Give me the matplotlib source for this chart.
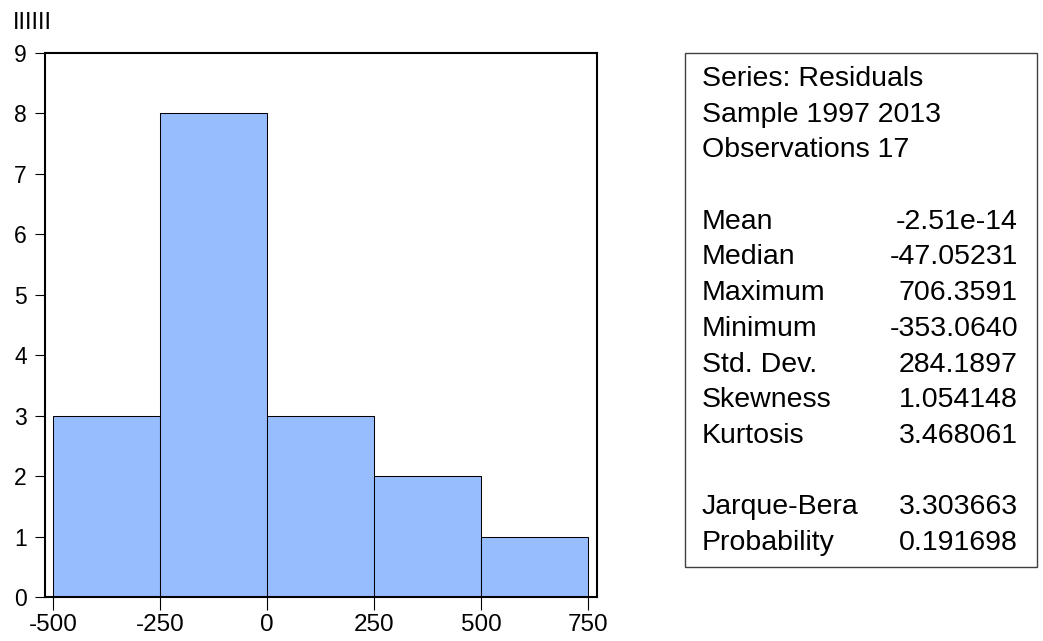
import numpy as np
import matplotlib.pyplot as plt

# Histogramme des résidus (style EViews)
bin_edges = [-500, -250, 0, 250, 500, 750]
counts = [3, 8, 3, 2, 1]
x_ticks = [-500, -250, 0, 250, 500, 750]
y_ticks = list(range(10))

stat_header = ["Series: Residuals", "Sample 1997 2013", "Observations 17"]
stat_names = ["Mean", "Median", "Maximum", "Minimum", "Std. Dev.",
              "Skewness", "Kurtosis"]
stat_values = ["-2.51e-14", "-47.05231", "706.3591", "-353.0640",
               "284.1897", "1.054148", "3.468061"]
test_names = ["Jarque-Bera", "Probability"]
test_values = ["3.303663", "0.191698"]

plt.rcParams["font.family"] = ["Liberation Sans", "DejaVu Sans"]
plt.rcParams["axes.unicode_minus"] = False

W, H = 1043, 641
fig = plt.figure(figsize=(W / 100, H / 100), dpi=100)
ax = fig.add_axes([45 / W, 1 - 597 / H, (597 - 45) / W, (597 - 53) / H])

left = np.array(bin_edges[:-1])
width = np.diff(bin_edges)
ax.bar(left, counts, width=width, align="edge", color="#97BDFE",
       edgecolor="black", linewidth=0.75)

ax.set_xlim(-519, 771)
ax.set_ylim(0, 9)
ax.set_xticks(x_ticks)
ax.set_yticks(y_ticks)
ax.tick_params(axis="x", direction="out", length=9, width=0.8, pad=3,
               labelsize=17.5, colors="black")
ax.tick_params(axis="y", direction="out", length=7, width=0.8, pad=6,
               labelsize=16.5, colors="black")
for s in ax.spines.values():
    s.set_linewidth(1.5)

fig.text(13 / W, 1 - 29 / H, "IIIIII", fontsize=17, ha="left", va="baseline")

# --- Boîte de statistiques ---
box = plt.Rectangle((685 / W, 1 - 567 / H), (1037 - 685) / W, (567 - 53) / H,
                    transform=fig.transFigure, fill=False, edgecolor="#404040",
                    linewidth=1.0)
fig.add_artist(box)

x_lab = 702 / W
x_val = 1018 / W
fs = 20.5
y0, dy = 86, 35.7   # ligne de base de la 1re ligne, interligne (pixels)


def ligne(i):
    return 1 - (y0 + i * dy) / H


for i, txt in enumerate(stat_header):
    fig.text(x_lab, ligne(i), txt, fontsize=fs, va="baseline", ha="left")

for i, (name, val) in enumerate(zip(stat_names, stat_values)):
    fig.text(x_lab, ligne(i + 4), name, fontsize=fs, va="baseline", ha="left")
    fig.text(x_val, ligne(i + 4), val, fontsize=fs, va="baseline", ha="right")

for i, (name, val) in enumerate(zip(test_names, test_values)):
    fig.text(x_lab, ligne(i + 12), name, fontsize=fs, va="baseline", ha="left")
    fig.text(x_val, ligne(i + 12), val, fontsize=fs, va="baseline", ha="right")

plt.savefig("out.png", dpi=100)
